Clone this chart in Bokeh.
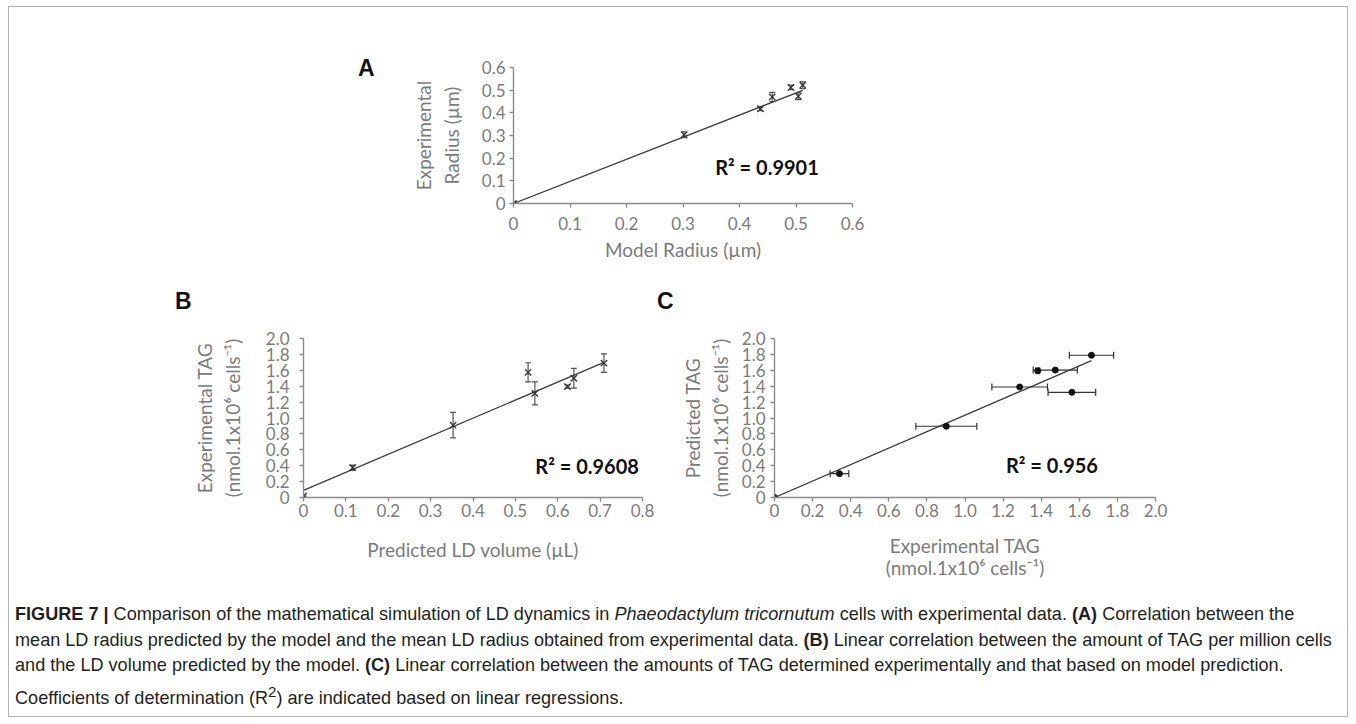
from bokeh.plotting import figure
from bokeh.models import Range1d, FixedTicker, Label, Whisker, TeeHead, ColumnDataSource, Spacer, Div
from bokeh.layouts import row, column
from bokeh.embed import file_html
from bokeh.resources import INLINE

# ---------------- Panel A : model radius vs experimental radius ----------------
a_model_radius = [0.0, 0.302, 0.437, 0.458, 0.491, 0.504, 0.512]
a_exp_radius = [0.0, 0.303, 0.418, 0.470, 0.512, 0.473, 0.522]
a_exp_err = [0.005, 0.013, 0.008, 0.020, 0.010, 0.015, 0.015]
a_fit_slope, a_fit_intercept = 0.975, 0.0
a_r2_text = "R² = 0.9901"
a_ticks = [0, 0.1, 0.2, 0.3, 0.4, 0.5, 0.6]
a_tick_labels = ["0", "0.1", "0.2", "0.3", "0.4", "0.5", "0.6"]

# ---------------- Panel B : predicted LD volume vs experimental TAG ----------------
b_pred_volume = [0.0, 0.116, 0.353, 0.530, 0.546, 0.623, 0.638, 0.709]
b_exp_tag = [0.02, 0.375, 0.91, 1.575, 1.31, 1.395, 1.50, 1.69]
b_exp_tag_err = [0.01, 0.033, 0.16, 0.12, 0.145, 0.02, 0.125, 0.117]
b_fit_slope, b_fit_intercept = 2.27, 0.09
b_r2_text = "R² = 0.9608"
b_x_ticks = [0, 0.1, 0.2, 0.3, 0.4, 0.5, 0.6, 0.7, 0.8]
b_x_tick_labels = ["0", "0.1", "0.2", "0.3", "0.4", "0.5", "0.6", "0.7", "0.8"]
tag_ticks = [0, 0.2, 0.4, 0.6, 0.8, 1.0, 1.2, 1.4, 1.6, 1.8, 2.0]
tag_tick_labels = ["0", "0.2", "0.4", "0.6", "0.8", "1.0", "1.2", "1.4", "1.6", "1.8", "2.0"]

# ---------------- Panel C : experimental TAG vs predicted TAG ----------------
c_exp_tag = [0.0, 0.341, 0.902, 1.287, 1.382, 1.474, 1.561, 1.664]
c_pred_tag = [0.0, 0.30, 0.896, 1.39, 1.595, 1.603, 1.323, 1.789]
c_exp_tag_err = [0.004, 0.049, 0.16, 0.146, 0.01, 0.116, 0.125, 0.116]
c_fit_slope, c_fit_intercept = 1.035, 0.0
c_r2_text = "R² = 0.956"

AXIS_COLOR = "#8a8a8a"
TEXT_GREY = "#7b7b7b"
FONT = "Lato"


def base_fig(width, height, xr, yr, left, right, top, bottom):
    p = figure(width=width, height=height, x_range=Range1d(*xr), y_range=Range1d(*yr),
               output_backend="svg", toolbar_location=None,
               min_border_left=left, min_border_right=right,
               min_border_top=top, min_border_bottom=bottom)
    p.grid.visible = False
    p.outline_line_color = None
    p.background_fill_color = "white"
    p.border_fill_color = "white"
    for ax in (p.xaxis, p.yaxis):
        ax.axis_line_color = AXIS_COLOR
        ax.axis_line_width = 1.4
        ax.major_tick_line_color = AXIS_COLOR
        ax.major_tick_line_width = 1.4
        ax.minor_tick_line_color = None
        ax.major_tick_out = 4
        ax.major_tick_in = 0
        ax.major_label_text_font = FONT
        ax.major_label_text_font_size = "17px"
        ax.major_label_text_color = TEXT_GREY
        ax.axis_label_text_font = FONT
        ax.axis_label_text_font_size = "19px"
        ax.axis_label_text_font_style = "normal"
        ax.axis_label_text_color = TEXT_GREY
    return p


def set_ticks(axis, ticks, labels):
    axis.ticker = FixedTicker(ticks=ticks)
    axis.major_label_overrides = {t: l for t, l in zip(ticks, labels)}


def add_fit(p, xs, slope, intercept):
    x0, x1 = min(xs), max(xs)
    p.line([x0, x1], [slope * x0 + intercept, slope * x1 + intercept],
           line_color="#3a3a3a", line_width=1.3)


def add_r2(p, x, y, text):
    p.add_layout(Label(x=x, y=y, text=text, text_font=FONT, text_font_size="20px",
                       text_font_style="bold", text_color="#111111", text_baseline="middle"))


def letter_span(text, left, top):
    return ('<span style="position:absolute;left:%dpx;top:%dpx;font-family:\'Liberation Sans\',Arial,sans-serif;'
            'font-weight:bold;font-size:23px;line-height:23px;color:#111111;">%s</span>' % (left, top, text))


# ---------- Panel A ----------
pA = base_fig(489, 273, (0, 0.6), (0, 0.6), 112, 38, 60, 77)
set_ticks(pA.xaxis, a_ticks, a_tick_labels)
set_ticks(pA.yaxis, a_ticks, a_tick_labels)
pA.xaxis.axis_label = "Model Radius (µm)"
pA.yaxis.axis_label = "Experimental\nRadius (µm)"
pA.yaxis.axis_label_text_line_height = 1.2
pA.xaxis.major_label_standoff = 9
pA.xaxis.axis_label_standoff = 5
pA.yaxis.major_label_standoff = 4
pA.yaxis.axis_label_standoff = 16
add_fit(pA, a_model_radius, a_fit_slope, a_fit_intercept)
srcA = ColumnDataSource(dict(x=a_model_radius, y=a_exp_radius,
                             up=[y + e for y, e in zip(a_exp_radius, a_exp_err)],
                             lo=[y - e for y, e in zip(a_exp_radius, a_exp_err)]))
pA.add_layout(Whisker(source=srcA, base="x", upper="up", lower="lo", dimension="height",
                      line_color="#555555", line_width=1.2,
                      upper_head=TeeHead(size=6, line_color="#555555", line_width=1.2),
                      lower_head=TeeHead(size=6, line_color="#555555", line_width=1.2)))
pA.scatter("x", "y", source=srcA, marker="x", size=9, line_color="#333333", line_width=1.3)
add_r2(pA, 0.357, 0.159, a_r2_text)

# ---------- Panel B ----------
pB = base_fig(489, 272, (0, 0.8), (0, 2.0), 132, 18, 18, 95)
set_ticks(pB.xaxis, b_x_ticks, b_x_tick_labels)
set_ticks(pB.yaxis, tag_ticks, tag_tick_labels)
pB.xaxis.axis_label = "Predicted LD volume (µL)"
pB.yaxis.axis_label = "Experimental TAG\n(nmol.1x10⁶ cells⁻¹)"
pB.yaxis.axis_label_text_line_height = 1.2
pB.xaxis.major_label_standoff = 2
pB.xaxis.axis_label_standoff = 18
pB.yaxis.major_label_standoff = 10
pB.yaxis.axis_label_standoff = 19
add_fit(pB, b_pred_volume, b_fit_slope, b_fit_intercept)
srcB = ColumnDataSource(dict(x=b_pred_volume, y=b_exp_tag,
                             up=[y + e for y, e in zip(b_exp_tag, b_exp_tag_err)],
                             lo=[y - e for y, e in zip(b_exp_tag, b_exp_tag_err)]))
pB.add_layout(Whisker(source=srcB, base="x", upper="up", lower="lo", dimension="height",
                      line_color="#555555", line_width=1.2,
                      upper_head=TeeHead(size=6, line_color="#555555", line_width=1.2),
                      lower_head=TeeHead(size=6, line_color="#555555", line_width=1.2)))
pB.scatter("x", "y", source=srcB, marker="x", size=9, line_color="#333333", line_width=1.3)
add_r2(pB, 0.547, 0.40, b_r2_text)

# ---------- Panel C ----------
pC = base_fig(520, 272, (0, 2.0), (0, 2.0), 114, 25, 18, 95)
set_ticks(pC.xaxis, tag_ticks, tag_tick_labels)
set_ticks(pC.yaxis, tag_ticks, tag_tick_labels)
pC.xaxis.axis_label = "Experimental TAG\n(nmol.1x10⁶ cells⁻¹)"
pC.xaxis.axis_label_text_line_height = 0.97
pC.yaxis.axis_label = "Predicted TAG\n(nmol.1x10⁶ cells⁻¹)"
pC.yaxis.axis_label_text_line_height = 1.2
pC.xaxis.major_label_standoff = 2
pC.xaxis.axis_label_standoff = 14
pC.yaxis.major_label_standoff = 5
pC.yaxis.axis_label_standoff = 7
add_fit(pC, c_exp_tag, c_fit_slope, c_fit_intercept)
srcC = ColumnDataSource(dict(x=c_exp_tag, y=c_pred_tag,
                             up=[x + e for x, e in zip(c_exp_tag, c_exp_tag_err)],
                             lo=[x - e for x, e in zip(c_exp_tag, c_exp_tag_err)]))
pC.add_layout(Whisker(source=srcC, base="y", upper="up", lower="lo", dimension="width",
                      line_color="#333333", line_width=1.2,
                      upper_head=TeeHead(size=7, line_color="#333333", line_width=1.2),
                      lower_head=TeeHead(size=7, line_color="#333333", line_width=1.2)))
pC.scatter("x", "y", source=srcC, marker="circle", size=6, fill_color="#111111",
           line_color="#111111")
add_r2(pC, 1.215, 0.415, c_r2_text)

# ---------- panel letters ----------
divA = Div(text='<div style="position:relative;width:392px;height:273px;">' +
           letter_span("A", 349, 50) + '</div>', width=392, height=273, margin=0)
divBC = Div(text='<div style="position:relative;width:1338px;height:40px;">' +
            letter_span("B", 166, 10) + letter_span("C", 648, 10) + '</div>',
            width=1338, height=40, margin=0)

caption_html = (
    '<div style="font-family:\'Liberation Sans\',Arial,sans-serif;font-size:18.1px;'
    'line-height:25.5px;color:#231f20;white-space:nowrap;padding-left:6px;padding-top:10px;">'
    '<b>FIGURE 7 |</b> Comparison of the mathematical simulation of LD dynamics in '
    '<i>Phaeodactylum tricornutum</i> cells with experimental data. <b>(A)</b> Correlation between the<br>'
    'mean LD radius predicted by the model and the mean LD radius obtained from experimental data. '
    '<b>(B)</b> Linear correlation between the amount of TAG per million cells<br>'
    'and the LD volume predicted by the model. <b>(C)</b> Linear correlation between the amounts of '
    'TAG determined experimentally and that based on model prediction.<br>'
    'Coefficients of determination (R<sup>2</sup>) are indicated based on linear regressions.'
    '</div>'
)
caption = Div(text=caption_html, width=1338, height=124, margin=0)

layout = column(
    row(divA, pA),
    divBC,
    row(Spacer(width=162, height=272), pB, pC),
    caption,
    margin=(6, 0, 0, 8),
    styles={"border": "1px solid #b4b4b4"},
)

open("out.html", "w").write(file_html(layout, INLINE))
